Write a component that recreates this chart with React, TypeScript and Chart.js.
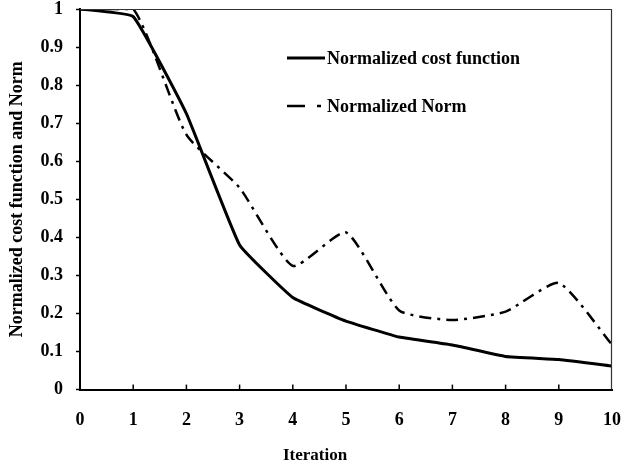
import React, { useEffect, useRef } from "react";
import { Chart, registerables } from "chart.js";

Chart.register(...registerables);

const iterations = [0, 1, 2, 3, 4, 5, 6, 7, 8, 9, 10];
const costValues = [1, 0.98, 0.725, 0.38, 0.242, 0.18, 0.138, 0.117, 0.087, 0.079, 0.062];
const normValues = [1, 1, 0.67, 0.53, 0.325, 0.413, 0.208, 0.183, 0.205, 0.28, 0.118];
const yTickLabels = ["0", "0.1", "0.2", "0.3", "0.4", "0.5", "0.6", "0.7", "0.8", "0.9", "1"];
const xTickLabels = ["0", "1", "2", "3", "4", "5", "6", "7", "8", "9", "10"];
const seriesLabels = ["Normalized cost function", "Normalized Norm"];

const FONT = "'Liberation Serif', 'Times New Roman', serif";

const frameAndLegend = {
  id: "frameAndLegend",
  afterDraw(chart: any) {
    const { ctx, chartArea } = chart;
    const { left, right, top, bottom } = chartArea;
    ctx.save();
    // top and right border
    ctx.strokeStyle = "#333";
    ctx.lineWidth = 1.2;
    ctx.beginPath();
    ctx.moveTo(left, top + 0.5);
    ctx.lineTo(right - 0.5, top + 0.5);
    ctx.lineTo(right - 0.5, bottom);
    ctx.stroke();
    // inward x ticks
    const xs = chart.scales.x;
    ctx.strokeStyle = "#000";
    ctx.lineWidth = 1.5;
    for (let i = 1; i < iterations.length - 1; i++) {
      const px = xs.getPixelForValue(iterations[i]);
      ctx.beginPath();
      ctx.moveTo(px, bottom);
      ctx.lineTo(px, bottom - 5);
      ctx.stroke();
    }
    // legend
    const ds = chart.data.datasets;
    const lx0 = left + 207;
    const lx1 = left + 245;
    const rows = [top + 49, top + 97];
    ctx.font = `bold 18px ${FONT}`;
    ctx.fillStyle = "#000";
    ctx.textBaseline = "middle";
    ctx.textAlign = "left";
    ds.forEach((d: any, i: number) => {
      const y = rows[i];
      ctx.strokeStyle = d.borderColor;
      ctx.lineWidth = d.borderWidth;
      ctx.setLineDash(i === 1 ? [18, 12, 4, 20] : []);
      ctx.beginPath();
      ctx.moveTo(lx0, y);
      ctx.lineTo(lx1, y);
      ctx.stroke();
      ctx.setLineDash([]);
      ctx.fillText(d.label, lx1 + 2, y + 1);
    });
    ctx.restore();
  },
};

export default function App() {
  const ref = useRef<HTMLCanvasElement | null>(null);
  useEffect(() => {
    if (!ref.current) return;
    const chart = new Chart(ref.current, {
      type: "line",
      data: {
        datasets: [
          {
            label: seriesLabels[0],
            data: iterations.map((x, i) => ({ x, y: costValues[i] })),
            borderColor: "#000",
            borderWidth: 3,
            pointRadius: 0,
            tension: 0.1,
            fill: false,
          },
          {
            label: seriesLabels[1],
            data: iterations.map((x, i) => ({ x, y: normValues[i] })),
            borderColor: "#000",
            borderWidth: 2.5,
            borderDash: [12, 6, 3, 6],
            pointRadius: 0,
            tension: 0.18,
            fill: false,
          },
        ],
      },
      options: {
        responsive: false,
        animation: false,
        layout: { padding: { left: 0, top: 9, right: 0, bottom: 0 } },
        plugins: {
          legend: { display: false },
          tooltip: { enabled: false },
          title: {
            display: true,
            position: "bottom",
            text: "Iteration",
            color: "#000",
            font: { family: FONT, size: 17, weight: "bold" },
            padding: { top: 0, bottom: 1 },
          },
        },
        scales: {
          x: {
            type: "linear",
            min: 0,
            max: 10,
            ticks: {
              stepSize: 1,
              color: "#000",
              font: { family: FONT, size: 18, weight: "bold" },
              padding: 20,
              maxRotation: 0,
              callback: (v: any) => xTickLabels[Math.round(Number(v))] ?? "",
            },
            grid: { display: true, drawOnChartArea: false, drawTicks: false },
            border: { display: true, color: "#000", width: 2 },
            afterFit: (s: any) => {
              s.height = 56;
              s.paddingLeft = 0;
              s.paddingRight = 18;
            },
          },
          y: {
            type: "linear",
            min: 0,
            max: 1,
            ticks: {
              stepSize: 0.1,
              color: "#000",
              font: { family: FONT, size: 18, weight: "bold" },
              padding: 13,
              callback: (v: any) => yTickLabels[Math.round(Number(v) * 10)] ?? "",
            },
            grid: {
              display: true,
              drawOnChartArea: false,
              drawTicks: true,
              tickLength: 4,
              color: "#000",
              tickWidth: 1.5,
            } as any,
            border: { display: true, color: "#000", width: 2 },
            title: {
              display: true,
              text: "Normalized cost function and Norm",
              color: "#000",
              font: { family: FONT, size: 18, weight: "bold" },
              padding: { top: 7, bottom: 0 },
            },
            afterFit: (s: any) => {
              s.width = 80;
              s.paddingTop = 0;
              s.paddingBottom = 0;
            },
          },
        },
      },
      plugins: [frameAndLegend],
    } as any);
    return () => chart.destroy();
  }, []);
  return (
    <div style={{ position: "absolute", left: 0, top: 0, width: 630, height: 467, background: "#fff" }}>
      <canvas ref={ref} width={630} height={467} style={{ display: "block" }} />
    </div>
  );
}
